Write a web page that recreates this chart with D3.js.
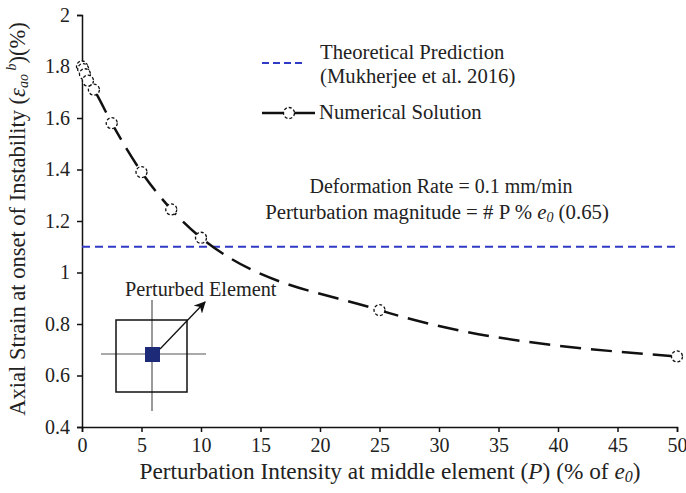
<!DOCTYPE html>
<html><head><meta charset="utf-8">
<script src="https://cdn.jsdelivr.net/npm/d3@7"></script>
<style>body{margin:0;background:#fff}svg{display:block}</style>
</head><body>
<script>
const xData = [0, 0.1, 0.25, 0.5, 1, 2.5, 5, 7.5, 10, 25, 50];
const yData = [1.80, 1.79, 1.77, 1.745, 1.71, 1.58, 1.39, 1.245, 1.135, 0.854, 0.674];
const theoretical = 1.1;
const xTicks = [0,5,10,15,20,25,30,35,40,45,50];
const yTicks = [0.4,0.6,0.8,1,1.2,1.4,1.6,1.8,2];

const FONT = "'Liberation Serif','Times New Roman',Times,serif";
const W = 686, H = 493;
const m = {l:82, r:9, t:15, b:66};
const svg = d3.select("body").append("svg").attr("width",W).attr("height",H)
  .attr("font-family",FONT).style("font-family",FONT);
const x = d3.scaleLinear().domain([0,50]).range([m.l, W-m.r]);
const y = d3.scaleLinear().domain([0.4,2]).range([H-m.b, m.t]);

const gx = svg.append("g").attr("transform",`translate(0,${y(0.4)})`)
  .call(d3.axisBottom(x).tickValues(xTicks).tickSize(5).tickPadding(6).tickFormat(d3.format("d")));
const gy = svg.append("g").attr("transform",`translate(${x(0)},0)`)
  .call(d3.axisLeft(y).tickValues(yTicks).tickSize(5).tickPadding(7).tickFormat(d=>d3.format("~g")(d)));
[gx,gy].forEach(g=>{
  g.attr("font-family",FONT).attr("font-size",20);
  g.selectAll("path,line").attr("stroke","#111").attr("stroke-width",1.5);
  g.selectAll("text").attr("fill","#222").style("font-family",FONT).style("font-size","20px");
});

function txt(xp,yp,size,anchor){
  return svg.append("text").attr("x",xp).attr("y",yp).attr("text-anchor",anchor||"start")
    .attr("fill","#222").style("font-family",FONT).style("font-size",size+"px");
}

// theoretical line
svg.append("line").attr("x1",x(0)).attr("x2",x(50)).attr("y1",y(theoretical)).attr("y2",y(theoretical))
  .attr("stroke","#2f3bc4").attr("stroke-width",2).attr("stroke-dasharray","8,5");

// numerical
const line = d3.line().x((d,i)=>x(xData[i])).y(d=>y(d)).curve(d3.curveMonotoneX);
svg.append("path").datum(yData).attr("d",line).attr("fill","none").attr("stroke","#111")
  .attr("stroke-width",2.5).attr("stroke-dasharray","21,10");
svg.selectAll("circle.pt").data(yData).join("circle").attr("class","pt")
  .attr("cx",(d,i)=>x(xData[i])).attr("cy",d=>y(d)).attr("r",5.5)
  .attr("fill","#fff").attr("stroke","#111").attr("stroke-width",1.3).attr("stroke-dasharray","3,2");

// legend
svg.append("line").attr("x1",262).attr("x2",305).attr("y1",63).attr("y2",63)
  .attr("stroke","#2f3bc4").attr("stroke-width",2).attr("stroke-dasharray","7,4");
txt(320,59,20.7).text("Theoretical Prediction");
txt(320,83,20.7).text("(Mukherjee et al. 2016)");
svg.append("line").attr("x1",262).attr("x2",315).attr("y1",113).attr("y2",113).attr("stroke","#111").attr("stroke-width",2.5);
svg.append("circle").attr("cx",289).attr("cy",113).attr("r",5.5).attr("fill","#fff").attr("stroke","#111").attr("stroke-width",1.3).attr("stroke-dasharray","3,2");
txt(319,119,20.7).text("Numerical Solution");

// annotation
txt(441,193,20,"middle").text("Deformation Rate = 0.1 mm/min");
const t2 = txt(437,219,20.8,"middle");
t2.append("tspan").text("Perturbation magnitude = # P % ");
t2.append("tspan").attr("font-style","italic").text("e");
t2.append("tspan").attr("font-style","italic").attr("dy",3).style("font-size","14px").text("0");
t2.append("tspan").attr("dy",-3).text(" (0.65)");

// inset
svg.append("line").attr("x1",101).attr("x2",206).attr("y1",354).attr("y2",354).attr("stroke","#555").attr("stroke-width",1.2);
svg.append("line").attr("x1",152).attr("x2",152).attr("y1",300).attr("y2",411).attr("stroke","#555").attr("stroke-width",1.2);
svg.append("rect").attr("x",116).attr("y",320).attr("width",71).attr("height",72).attr("fill","none").attr("stroke","#111").attr("stroke-width",1.5);
svg.append("rect").attr("x",145).attr("y",347).attr("width",15).attr("height",15).attr("fill","#1c2a78");
svg.append("defs").append("marker").attr("id","ah").attr("viewBox","0 0 10 10").attr("refX",9).attr("refY",5)
  .attr("markerWidth",9).attr("markerHeight",9).attr("orient","auto")
  .append("path").attr("d","M0,0 L10,5 L0,10 L3,5 Z").attr("fill","#111");
svg.append("line").attr("x1",160).attr("y1",349).attr("x2",205).attr("y2",302).attr("stroke","#111").attr("stroke-width",1.3).attr("marker-end","url(#ah)");
txt(125,296,20.3).text("Perturbed Element");

// axis titles
const xt = txt(390,479,23.3,"middle");
xt.append("tspan").text("Perturbation Intensity at middle element (");
xt.append("tspan").attr("font-style","italic").text("P");
xt.append("tspan").text(") (% of ");
xt.append("tspan").attr("font-style","italic").text("e");
xt.append("tspan").attr("font-style","italic").attr("dy",3).style("font-size","16px").text("0");
xt.append("tspan").attr("dy",-3).text(")");

const yt = svg.append("text").attr("transform",`translate(25,${(m.t+H-m.b)/2 - 2}) rotate(-90)`).attr("text-anchor","middle")
  .attr("fill","#222").style("font-family",FONT).style("font-size","22.5px");
yt.append("tspan").text("Axial Strain at onset of Instability (");
yt.append("tspan").attr("font-style","italic").text("ε");
yt.append("tspan").attr("font-style","italic").attr("dy",3).style("font-size","14px").text("ao");
yt.append("tspan").attr("font-style","italic").attr("dy",-12).style("font-size","14px").text(" b");
yt.append("tspan").attr("dy",9).text(")(%)");
</script>
</body></html>
